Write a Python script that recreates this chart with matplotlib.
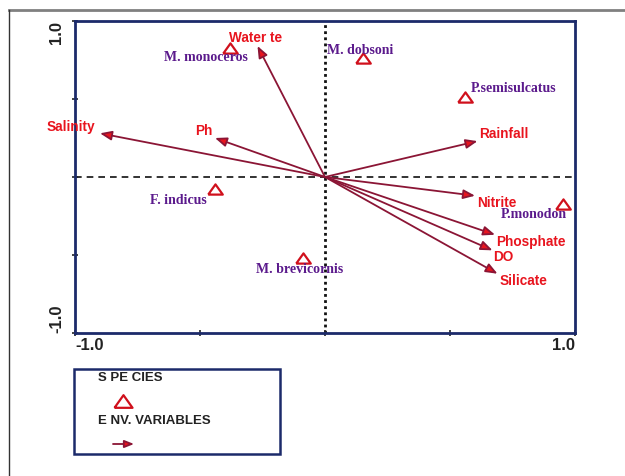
import matplotlib.pyplot as plt
from matplotlib.patches import FancyArrowPatch, Rectangle
from matplotlib.lines import Line2D
import matplotlib.transforms as mtransforms

# environmental variable vectors (axis 1, axis 2)
env_vars = ['Water te', 'Salinity', 'Ph', 'Rainfall', 'Nitrite', 'Phosphate', 'DO', 'Silicate']
env_x = [-0.27, -0.90, -0.44, 0.61, 0.60, 0.68, 0.67, 0.69]
env_y = [0.84, 0.28, 0.25, 0.23, -0.12, -0.37, -0.47, -0.62]

# species scores
species = ['M. monoceros', 'M. dobsoni', 'P.semisulcatus', 'F. indicus', 'M. brevicornis', 'P.monodon']
sp_x = [-0.38, 0.15, 0.56, -0.44, -0.09, 0.95]
sp_y = [0.83, 0.76, 0.51, -0.08, -0.52, -0.17]

# label placement (pixel offsets from the point, horizontal alignment)
env_lab = {'Water te': (-2, 8, 'center'), 'Salinity': (-5, 6, 'right'), 'Ph': (-2, 7, 'right'),
           'Rainfall': (2, 7, 'left'), 'Nitrite': (2, -7, 'left'), 'Phosphate': (1, -7, 'left'),
           'DO': (1, -7, 'left'), 'Silicate': (2, -7, 'left')}
sp_lab = {'M. monoceros': (-24, -10, 'center'), 'M. dobsoni': (-2, 8, 'center'),
          'P.semisulcatus': (6, 9, 'left'), 'F. indicus': (-37, -11, 'center'),
          'M. brevicornis': (-3, -11, 'center'), 'P.monodon': (-29, -11, 'center')}

NAVY = '#1c2a6a'
RED = '#e8141e'
SHAFT = '#8b1535'
PURPLE = '#5b1a8c'
TRI = [(-1, -0.7), (1, -0.7), (0, 0.7), (-1, -0.7)]  # flat open triangle

fig = plt.figure(figsize=(6.25, 4.76), dpi=100)
ax = fig.add_axes([0.12, 0.3004, 0.8, 0.6555])
ax.set_xlim(-1, 1)
ax.set_ylim(-1, 1)

for s in ax.spines.values():
    s.set_color(NAVY)
    s.set_linewidth(2)
ax.set_xticks([-1, -0.5, 0, 0.5, 1])
ax.set_yticks([-1, -0.5, 0, 0.5, 1])
ax.set_xticklabels([])
ax.set_yticklabels([])
ax.tick_params(direction='inout', length=5, width=1.2, color='#222222')

# end labels of the axes
lab_font = dict(family='Liberation Sans', fontweight='bold', fontsize=12, color='#222222')
xt = mtransforms.blended_transform_factory(ax.transData, ax.transAxes)
yt = mtransforms.blended_transform_factory(ax.transAxes, ax.transData)
ax.text(-1, -0.015, '-1.0', transform=xt, ha='left', va='top', **lab_font)
ax.text(1, -0.015, '1.0', transform=xt, ha='right', va='top', **lab_font)
ax.text(-0.022, 1, '1.0', transform=yt, ha='right', va='top', rotation=90, **lab_font)
ax.text(-0.022, -1, '-1.0', transform=yt, ha='right', va='bottom', rotation=90, **lab_font)

# zero lines
ax.axhline(0, color='#111111', lw=1.2, dashes=(4, 3), zorder=1)
ax.axvline(0, color='#111111', lw=2, dashes=(1, 1.2), zorder=1)

# environmental arrows
for name, x, y in zip(env_vars, env_x, env_y):
    arr = FancyArrowPatch((0, 0), (x, y), arrowstyle='-|>,head_length=0.7,head_width=0.28',
                          mutation_scale=10, lw=1.3, ec=SHAFT, fc=RED, zorder=3,
                          shrinkA=0, shrinkB=0)
    ax.add_patch(arr)
    dx, dy, ha = env_lab[name]
    ax.annotate(name, (x, y), xytext=(dx, dy), textcoords='offset pixels', ha=ha, va='center',
                color=RED, fontsize=9.8, fontweight='bold', family='Liberation Sans', zorder=4)

# species
ax.plot(sp_x, sp_y, ls='none', marker=TRI, ms=10.5, mfc='white', mec='#d0101c', mew=1.6, zorder=4)
for name, x, y in zip(species, sp_x, sp_y):
    dx, dy, ha = sp_lab[name]
    ax.annotate(name, (x, y), xytext=(dx, dy), textcoords='offset pixels', ha=ha, va='center',
                color=PURPLE, fontsize=10, fontweight='bold', family='Liberation Serif', zorder=4)

# outer frame
fig.add_artist(Line2D([9 / 625, 1], [1 - 10 / 476] * 2, transform=fig.transFigure,
                      color='#808080', lw=2))
fig.add_artist(Line2D([9 / 625] * 2, [0, 1 - 10 / 476], transform=fig.transFigure,
                      color='#333333', lw=1))

# legend box
fig.add_artist(Rectangle((74 / 625, 1 - 454 / 476), 206 / 625, 85 / 476, transform=fig.transFigure,
                         fill=False, ec=NAVY, lw=1.8))
leg_font = dict(family='Liberation Sans', fontweight='bold', fontsize=9.5, color='#222222',
                va='center', ha='left')
fig.text(98 / 625, 1 - 378 / 476, 'S PE CIES', **leg_font)
fig.text(98 / 625, 1 - 421 / 476, 'E NV. VARIABLES', **leg_font)
fig.add_artist(Line2D([123 / 625], [1 - 401 / 476], transform=fig.transFigure, ls='none',
                      marker=TRI, ms=13, mfc='white', mec='#d0101c', mew=1.6))
fig.add_artist(FancyArrowPatch((113 / 625, 1 - 444 / 476), (134 / 625, 1 - 444 / 476),
                               transform=fig.transFigure,
                               arrowstyle='-|>,head_length=0.7,head_width=0.28',
                               mutation_scale=8, lw=1.3, ec=SHAFT, fc=RED, shrinkA=0, shrinkB=0))

fig.savefig('out.png', dpi=100)
